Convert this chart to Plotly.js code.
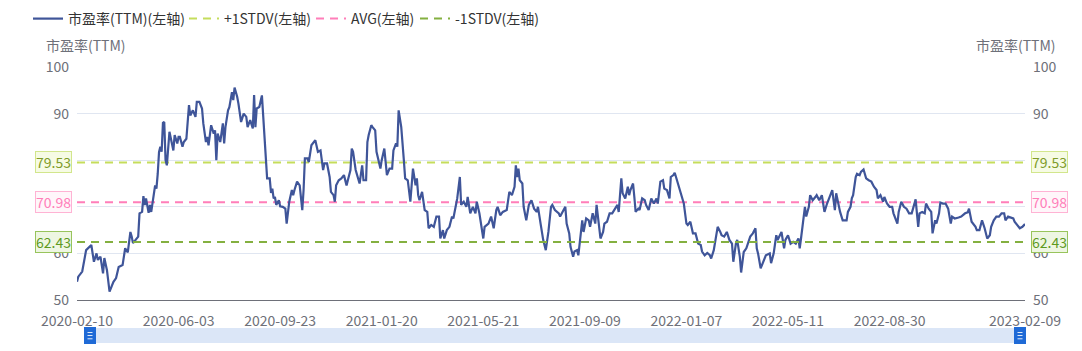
<!DOCTYPE html>
<html>
<head>
<meta charset="utf-8">
<script src="https://cdn.plot.ly/plotly-3.0.1.min.js"></script>
<style>
  html, body { margin: 0; padding: 0; background: #fff; }
  #chart { width: 1082px; height: 351px; }
</style>
</head>
<body>
<div id="chart"></div>
<script>
// ---- data ----
const tickIdx = [0, 78, 156, 234, 312, 390, 468, 546, 624, 728];
const tickText = ['2020-02-10', '2020-06-03', '2020-09-23', '2021-01-20', '2021-05-21',
                  '2021-09-09', '2022-01-07', '2022-05-11', '2022-08-30', '2023-02-09'];

// trading-day index (0 = 2020-02-10, 728 = 2023-02-09)
const dayIdx = [0,1,4,7,11,13,15,16,18,20,21,23,25,28,30,32,35,37,39,41,42,43,45,47,48,50,51,52,53,55,56,57,60,61,62,63,64,65,66,67,68,69,71,74,75,77,78,79,81,82,84,86,87,89,91,92,94,96,97,99,100,101,103,105,106,107,108,110,112,113,114,116,117,119,120,121,123,124,126,128,130,131,133,135,136,137,138,140,142,143,144,146,148,149,150,151,152,153,155,156,158,160,161,163,165,166,167,169,171,173,174,175,177,178,180,183,185,187,189,190,192,194,195,197,198,199,201,203,205,206,207,208,210,211,212,214,216,217,219,220,222,223,224,226,227,229,230,231,233,234,236,238,240,242,243,245,246,247,249,251,252,254,255,256,258,260,261,262,263,265,267,269,270,272,274,276,278,279,281,282,284,286,288,289,292,294,295,297,299,300,302,304,306,307,309,312,313,316,318,320,322,323,325,327,330,332,334,336,337,338,339,340,342,343,345,347,349,351,353,354,356,358,360,362,364,365,367,370,371,373,375,376,378,379,381,382,384,385,388,389,391,393,394,396,398,399,400,402,404,405,407,409,411,413,415,416,418,419,421,423,424,425,427,428,429,431,432,434,436,437,439,441,443,445,446,448,450,451,453,455,456,458,459,460,462,464,466,468,469,471,473,475,477,479,480,482,484,486,487,489,491,492,494,495,497,499,501,503,504,506,507,509,510,512,514,515,517,519,521,522,523,525,527,529,532,533,535,537,538,539,541,543,544,546,548,550,552,554,555,556,558,559,560,562,563,565,567,568,570,572,573,574,576,578,580,581,582,583,585,586,588,591,592,594,595,596,598,599,601,602,604,606,608,610,612,614,615,617,619,620,622,624,626,627,630,631,633,635,637,639,641,643,644,646,647,649,651,652,654,656,657,659,660,662,663,665,667,669,671,672,674,677,679,682,684,685,687,690,691,693,695,697,699,701,702,704,706,708,710,712,713,715,719,720,722,724,726,728];

// 市盈率(TTM)
const pe = [53.9,55.0,56.1,60.7,61.8,58.2,60.0,58.6,59.3,55.7,59.0,56.4,51.8,53.9,54.7,57.1,57.5,61.1,60.2,64.6,63.6,62.2,62.9,63.6,68.6,68.9,72.3,70.4,71.8,68.7,70.4,68.9,74.6,73.9,77.1,81.8,82.9,81.8,88.0,88.2,80.0,78.9,86.1,82.1,85.4,83.6,85.0,85.0,82.9,83.9,84.6,91.8,89.6,90.7,89.3,92.5,92.5,91.1,87.9,83.9,85.0,83.2,87.5,85.7,86.4,80.0,85.7,83.9,87.9,83.6,87.1,90.7,91.4,94.6,92.9,95.6,93.6,92.1,88.2,90.0,89.3,87.1,88.6,86.8,94.0,87.1,91.1,91.4,93.9,90.0,85.7,76.1,76.1,73.0,73.9,71.8,72.1,70.4,71.4,70.1,70.0,69.6,66.4,71.1,73.6,72.5,73.6,75.4,74.6,69.3,73.6,80.4,80.4,79.6,83.2,84.3,81.8,82.1,77.9,79.3,79.3,76.4,73.2,72.5,71.1,74.6,75.7,76.1,76.8,75.7,74.6,75.7,77.9,82.5,81.8,77.9,76.1,75.0,78.9,75.7,75.7,83.9,85.4,87.5,87.1,86.4,81.8,80.7,78.2,80.0,82.5,76.8,78.2,78.2,82.1,83.6,82.9,90.7,87.1,80.0,76.1,75.7,72.9,71.1,78.2,74.6,76.1,72.5,71.4,73.2,69.3,68.9,65.4,66.1,65.7,67.9,67.9,63.2,65.0,63.2,65.0,65.7,67.9,67.5,71.8,76.4,70.4,71.1,70.0,72.1,68.6,70.0,68.6,71.1,68.6,63.2,65.7,66.4,67.9,65.4,69.3,70.0,68.2,68.9,69.3,73.2,72.5,74.3,78.9,76.4,78.2,75.7,75.0,70.0,67.1,70.4,71.4,69.6,68.9,70.0,66.4,62.9,60.7,64.6,70.0,70.4,69.3,68.6,67.9,68.9,70.0,66.4,64.3,61.4,59.3,60.4,60.7,59.6,67.1,64.6,67.5,67.1,65.7,68.6,66.4,70.4,67.9,63.2,64.6,66.4,66.8,68.6,68.6,69.6,70.4,68.9,76.1,72.9,71.8,74.3,72.5,73.6,75.0,72.1,68.9,69.6,69.3,71.8,71.4,70.4,69.3,71.8,70.7,71.8,70.7,75.4,75.7,73.9,73.6,71.8,76.4,76.8,77.3,76.4,74.3,72.5,70.7,66.4,66.1,66.8,64.3,64.3,62.1,61.8,60.4,59.6,60.1,59.6,58.9,60.7,63.9,65.7,64.6,63.9,63.6,64.6,62.9,62.1,58.2,62.1,62.9,59.3,55.9,60.3,61.1,61.8,63.6,64.3,65.4,61.1,60.0,56.8,58.2,59.6,60.0,57.9,60.0,63.9,62.9,63.6,64.6,61.1,62.9,63.9,62.1,62.5,62.1,63.2,61.1,63.2,67.1,70.0,67.9,70.0,72.5,71.4,72.1,72.5,71.4,72.5,70.7,68.9,70.7,72.1,73.6,71.4,69.3,72.9,70.0,68.9,67.1,67.1,68.9,70.0,71.8,72.5,76.4,77.1,76.8,77.5,78.0,76.1,75.7,75.4,74.3,73.6,71.8,72.5,71.1,72.1,70.7,70.0,70.0,68.6,66.4,68.9,71.1,70.0,69.6,68.6,68.6,70.4,71.6,65.7,68.6,68.9,68.6,70.7,69.6,68.9,64.3,67.1,66.4,68.6,70.9,70.7,70.7,69.6,66.4,67.9,67.5,67.7,67.9,68.6,68.8,69.6,66.8,65.7,65.0,65.0,67.1,65.4,63.2,63.9,65.7,67.1,67.9,67.9,68.6,68.6,67.1,67.9,67.5,66.8,66.1,65.4,65.7,66.3];

const STDV_UP = 79.53;
const AVG = 70.98;
const STDV_DN = 62.43;

const seriesNames = ['市盈率(TTM)(左轴)', '+1STDV(左轴)', 'AVG(左轴)', '-1STDV(左轴)'];
const axisName = '市盈率(TTM)';

// ---- styles ----
const FONT = '"Noto Sans CJK SC", "Noto Sans", sans-serif';
const C_MAIN = '#3f5599';
const C_UP = '#c5dd5c';
const C_AVG = '#ff7eb9';
const C_DN = '#84b040';
const C_AXIS = '#6e7079';

const xEnds = [tickIdx[0], tickIdx[tickIdx.length - 1]];

const traces = [
  { x: xEnds, y: [STDV_UP, STDV_UP], name: seriesNames[1], type: 'scatter', mode: 'lines',
    line: { color: C_UP, width: 2, dash: '8px,6px' }, legend: 'legend2', hoverinfo: 'skip' },
  { x: xEnds, y: [AVG, AVG], name: seriesNames[2], type: 'scatter', mode: 'lines',
    line: { color: C_AVG, width: 2, dash: '8px,6px' }, legend: 'legend3', hoverinfo: 'skip' },
  { x: xEnds, y: [STDV_DN, STDV_DN], name: seriesNames[3], type: 'scatter', mode: 'lines', yaxis: 'y2',
    line: { color: C_DN, width: 2, dash: '8px,6px' }, legend: 'legend4', hoverinfo: 'skip' },
  { x: dayIdx, y: pe, name: seriesNames[0], type: 'scatter', mode: 'lines',
    line: { color: C_MAIN, width: 2.2 }, legend: 'legend', hoverinfo: 'skip' }
];

// pixel helpers for paper coords (plot area: x 77..1025, y 67..300)
const L = 77, R = 57, T = 67, B = 51, W = 1082, H = 351;
const PW = W - L - R, PH = H - T - B;
const px = v => (v - L) / PW;
const py = v => (H - B - v) / PH;

function legendAt(textStartPx) {
  return {
    orientation: 'h', x: px(textStartPx - 40), xanchor: 'left', y: py(19), yanchor: 'middle',
    bgcolor: 'rgba(0,0,0,0)', borderwidth: 0, font: { family: FONT, size: 14, color: '#333' },
    itemclick: false, itemdoubleclick: false
  };
}

function badge(val, color, fill, border, side) {
  return {
    xref: 'paper', yref: 'y', x: side === 'left' ? 0 : 1, y: val,
    xanchor: side === 'left' ? 'right' : 'left', yanchor: 'middle',
    xshift: side === 'left' ? -5 : 6,
    text: val.toFixed(2), showarrow: false,
    font: { family: FONT, size: 14, color: color },
    bgcolor: fill, bordercolor: border, borderwidth: 1, borderpad: 0
  };
}

const annotations = [
  { xref: 'paper', yref: 'paper', x: px(44), y: py(45), xanchor: 'left', yanchor: 'middle',
    text: axisName, showarrow: false, font: { family: FONT, size: 14, color: C_AXIS } },
  { xref: 'paper', yref: 'paper', x: px(1058), y: py(45), xanchor: 'right', yanchor: 'middle',
    text: axisName, showarrow: false, font: { family: FONT, size: 14, color: C_AXIS } }
];
['left', 'right'].forEach(side => {
  annotations.push(badge(STDV_UP, '#7f9c2a', '#f6fbe4', '#d2e68c', side));
  annotations.push(badge(AVG, '#ff7eb9', '#fff6fa', '#ffb3d4', side));
  annotations.push(badge(STDV_DN, '#5e9a1e', '#eef6e2', '#98c45c', side));
});

// slider (dataZoom look-alike)
const shapes = [
  { type: 'rect', xref: 'paper', yref: 'paper', x0: px(90), x1: px(1020), y0: py(343), y1: py(328),
    fillcolor: '#dbe6f7', line: { width: 0 }, layer: 'above' },
  { type: 'rect', xref: 'paper', yref: 'paper', x0: px(84), x1: px(96), y0: py(344), y1: py(327),
    fillcolor: '#1f6ad6', line: { width: 0 }, layer: 'above' },
  { type: 'rect', xref: 'paper', yref: 'paper', x0: px(1014), x1: px(1026), y0: py(344), y1: py(327),
    fillcolor: '#1f6ad6', line: { width: 0 }, layer: 'above' }
];
[[87.5, 92.5], [1017.5, 1022.5]].forEach(([a, b]) => {
  [332.5, 335.5, 338.8].forEach(yy => {
    shapes.push({ type: 'line', xref: 'paper', yref: 'paper', x0: px(a), x1: px(b), y0: py(yy), y1: py(yy),
      line: { color: 'rgba(255,255,255,0.85)', width: 1 }, layer: 'above' });
  });
});

const yBase = {
  range: [50, 100], tick0: 50, dtick: 10, fixedrange: true, zeroline: false,
  tickfont: { family: FONT, size: 14, color: C_AXIS }, ticks: '', showline: false
};

const layout = {
  width: W, height: H,
  margin: { l: L, r: R, t: T, b: B, pad: 0, autoexpand: false },
  paper_bgcolor: '#ffffff', plot_bgcolor: '#ffffff',
  font: { family: FONT, size: 14, color: C_AXIS },
  showlegend: true,
  legend: legendAt(68),
  legend2: legendAt(224),
  legend3: legendAt(351),
  legend4: legendAt(455),
  xaxis: {
    type: 'linear', range: xEnds, fixedrange: true,
    tickmode: 'array', tickvals: tickIdx, ticktext: tickText,
    showgrid: false, zeroline: false, showline: true, linecolor: C_AXIS, linewidth: 1,
    ticks: '', ticklabelstandoff: 8,
    tickfont: { family: FONT, size: 14, color: C_AXIS }
  },
  yaxis: Object.assign({}, yBase, { side: 'left', showgrid: true, gridcolor: '#e0e6f1', gridwidth: 1, ticklabelstandoff: 7 }),
  yaxis2: Object.assign({}, yBase, { side: 'right', overlaying: 'y', showgrid: false, ticklabelstandoff: 7 }),
  annotations: annotations,
  shapes: shapes,
  hovermode: false
};

Plotly.newPlot('chart', traces, layout, { displayModeBar: false, staticPlot: true });
</script>
</body>
</html>
